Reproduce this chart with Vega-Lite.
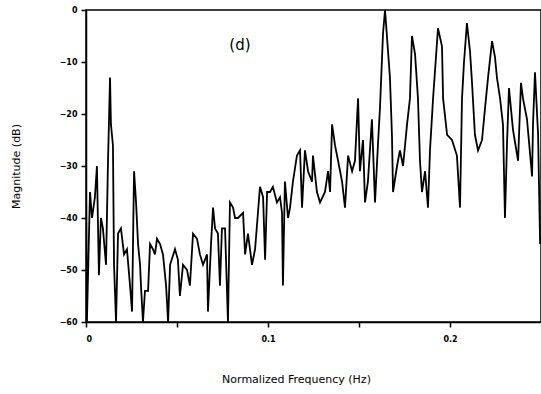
{
  "$schema": "https://vega.github.io/schema/vega-lite/v6.json",
  "width": 455,
  "height": 312,
  "autosize": {"type": "none"},
  "padding": {"left": 86, "top": 10, "right": 0, "bottom": 72},
  "background": "white",
  "config": {
    "view": {"stroke": "black", "strokeWidth": 1.5},
    "font": "DejaVu Sans",
    "axis": {"domainColor": "black", "domainWidth": 1.5, "tickColor": "black", "tickWidth": 1.5, "labelColor": "black", "titleColor": "black", "grid": false, "labelFontWeight": "bold", "labelFontSize": 8, "titleFontSize": 11, "titleFontWeight": "normal"}
  },
  "layer": [
    {
      "data": {"values": [
        {"f":0,"db":-33},{"f":0.0005,"db":-60},{"f":0.0022,"db":-35},{"f":0.0033,"db":-40},{"f":0.0049,"db":-36},{"f":0.006,"db":-30},{"f":0.0071,"db":-51},{"f":0.0082,"db":-40},{"f":0.0093,"db":-42},{"f":0.011,"db":-49},{"f":0.0121,"db":-29},{"f":0.0132,"db":-13},{"f":0.0137,"db":-22},{"f":0.0148,"db":-26},{"f":0.0154,"db":-49},{"f":0.0165,"db":-60},{"f":0.0176,"db":-43},{"f":0.0192,"db":-42},{"f":0.0209,"db":-47},{"f":0.0225,"db":-46},{"f":0.0242,"db":-53},{"f":0.0253,"db":-58},{"f":0.0264,"db":-31},{"f":0.0275,"db":-37},{"f":0.0286,"db":-45},{"f":0.0297,"db":-49},{"f":0.0302,"db":-53},{"f":0.0313,"db":-60},{"f":0.0324,"db":-54},{"f":0.0341,"db":-54},{"f":0.0352,"db":-45},{"f":0.0368,"db":-46},{"f":0.0379,"db":-47},{"f":0.039,"db":-44},{"f":0.0407,"db":-45},{"f":0.0423,"db":-47},{"f":0.044,"db":-53},{"f":0.0451,"db":-60},{"f":0.0462,"db":-49},{"f":0.0489,"db":-46},{"f":0.0505,"db":-48},{"f":0.0516,"db":-55},{"f":0.0533,"db":-49},{"f":0.0555,"db":-50},{"f":0.0571,"db":-53},{"f":0.0588,"db":-43},{"f":0.061,"db":-44},{"f":0.0626,"db":-47},{"f":0.0643,"db":-49},{"f":0.0665,"db":-47},{"f":0.067,"db":-58},{"f":0.0687,"db":-45},{"f":0.0698,"db":-38},{"f":0.0709,"db":-42},{"f":0.0725,"db":-43},{"f":0.0736,"db":-53},{"f":0.0747,"db":-42},{"f":0.0764,"db":-42},{"f":0.078,"db":-60},{"f":0.0791,"db":-37},{"f":0.0808,"db":-38},{"f":0.0819,"db":-40},{"f":0.0835,"db":-40},{"f":0.0863,"db":-39},{"f":0.0874,"db":-47},{"f":0.089,"db":-43},{"f":0.0912,"db":-49},{"f":0.0929,"db":-46},{"f":0.0956,"db":-34},{"f":0.0973,"db":-36},{"f":0.0984,"db":-48},{"f":0.0995,"db":-35},{"f":0.1011,"db":-35},{"f":0.1027,"db":-34},{"f":0.1049,"db":-37},{"f":0.1066,"db":-36},{"f":0.1077,"db":-39},{"f":0.1082,"db":-53},{"f":0.1093,"db":-33},{"f":0.111,"db":-40},{"f":0.1121,"db":-38},{"f":0.1137,"db":-33},{"f":0.1159,"db":-28},{"f":0.1176,"db":-27},{"f":0.1187,"db":-38},{"f":0.1203,"db":-27},{"f":0.122,"db":-31},{"f":0.1242,"db":-33},{"f":0.1247,"db":-28},{"f":0.1269,"db":-35},{"f":0.1286,"db":-37},{"f":0.1313,"db":-35},{"f":0.133,"db":-31},{"f":0.1341,"db":-35},{"f":0.1352,"db":-22},{"f":0.1368,"db":-26},{"f":0.1385,"db":-29},{"f":0.1407,"db":-33},{"f":0.1423,"db":-38},{"f":0.144,"db":-28},{"f":0.1462,"db":-31},{"f":0.1478,"db":-29},{"f":0.1489,"db":-21},{"f":0.1495,"db":-17},{"f":0.1505,"db":-31},{"f":0.1522,"db":-25},{"f":0.1533,"db":-37},{"f":0.1549,"db":-33},{"f":0.1571,"db":-21},{"f":0.1588,"db":-37},{"f":0.1604,"db":-26},{"f":0.1615,"db":-19},{"f":0.1632,"db":-4.5},{"f":0.1643,"db":0},{"f":0.1659,"db":-7.7},{"f":0.167,"db":-13},{"f":0.1681,"db":-24},{"f":0.1687,"db":-35},{"f":0.1709,"db":-30},{"f":0.1725,"db":-27},{"f":0.1742,"db":-30},{"f":0.1764,"db":-22},{"f":0.178,"db":-17},{"f":0.1791,"db":-5},{"f":0.1808,"db":-8.5},{"f":0.1824,"db":-17},{"f":0.1835,"db":-29},{"f":0.1846,"db":-35},{"f":0.1863,"db":-31},{"f":0.1879,"db":-38},{"f":0.189,"db":-27},{"f":0.1907,"db":-17},{"f":0.1929,"db":-6},{"f":0.1934,"db":-3.5},{"f":0.1956,"db":-7},{"f":0.1962,"db":-17},{"f":0.1984,"db":-24},{"f":0.2011,"db":-25},{"f":0.2038,"db":-28},{"f":0.2055,"db":-38},{"f":0.2066,"db":-17},{"f":0.2077,"db":-10},{"f":0.2093,"db":-2.5},{"f":0.211,"db":-8},{"f":0.2121,"db":-14},{"f":0.2137,"db":-24},{"f":0.2154,"db":-27},{"f":0.2176,"db":-25},{"f":0.2192,"db":-19},{"f":0.2209,"db":-13},{"f":0.2231,"db":-6},{"f":0.2247,"db":-9},{"f":0.2258,"db":-13},{"f":0.2275,"db":-17},{"f":0.2291,"db":-22},{"f":0.2302,"db":-40},{"f":0.2313,"db":-26},{"f":0.2324,"db":-15},{"f":0.2346,"db":-23},{"f":0.2374,"db":-29},{"f":0.239,"db":-14},{"f":0.2401,"db":-17},{"f":0.2423,"db":-21},{"f":0.2451,"db":-32},{"f":0.2456,"db":-22},{"f":0.2467,"db":-12},{"f":0.2484,"db":-24},{"f":0.2495,"db":-45}
      ]},
      "mark": {"type": "line", "color": "black", "strokeWidth": 1.8, "clip": true},
      "encoding": {
        "x": {"field": "f", "type": "quantitative", "scale": {"domain": [0, 0.25], "nice": false, "zero": false},
          "axis": {"values": [0, 0.05, 0.1, 0.15, 0.2], "format": ".2~f", "labelExpr": "indexof(['0','0.1','0.2'], datum.label) >= 0 ? datum.label : ''", "title": "Normalized Frequency (Hz)", "titlePadding": 30, "titleX": 210, "labelPadding": 8, "tickSize": 5}},
        "y": {"field": "db", "type": "quantitative", "scale": {"domain": [-60, 0], "nice": false},
          "axis": {"values": [0, -10, -20, -30, -40, -50, -60], "title": "Magnitude (dB)", "titlePadding": 38, "tickSize": 5, "labelPadding": 4}}
      }
    },
    {
      "data": {"values": [{"f": 0.0846, "db": -6.7, "label": "(d)"}]},
      "mark": {"type": "text", "fontSize": 15, "color": "black", "align": "center", "baseline": "middle"},
      "encoding": {
        "x": {"field": "f", "type": "quantitative"},
        "y": {"field": "db", "type": "quantitative"},
        "text": {"field": "label"}
      }
    }
  ]
}
